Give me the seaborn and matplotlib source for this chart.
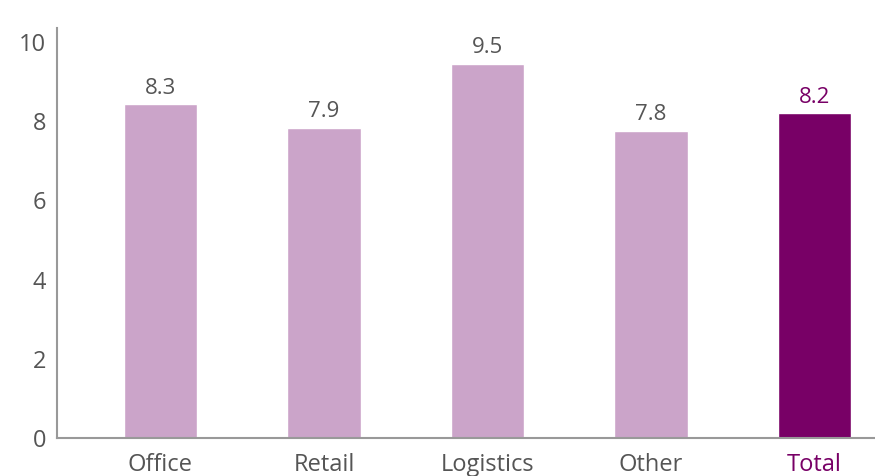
import matplotlib
matplotlib.use("Agg")
import matplotlib.pyplot as plt
import seaborn as sns
import pandas as pd

categories = ["Office", "Retail", "Logistics", "Other", "Total"]
heights = [8.43, 7.83, 9.44, 7.75, 8.2]
value_labels = ["8.3", "7.9", "9.5", "7.8", "8.2"]
yticks = [0, 2, 4, 6, 8, 10]

light = "#CBA4C9"
dark = "#780066"
text_gray = "#555555"
spine_gray = "#999999"

sns.set_theme(style="white")
plt.rcParams["font.family"] = ["Open Sans", "DejaVu Sans"]

df = pd.DataFrame({"cat": categories, "val": heights})
colors = [light, light, light, light, dark]

fig = plt.figure(figsize=(8.75, 4.76), dpi=100)
ax = fig.add_axes([57/875, 38/476, 1 - 57/875, (438-28)/476])
sns.barplot(data=df, x="cat", y="val", hue="cat", palette=colors, legend=False,
            width=0.45, ax=ax, saturation=1)

ax.set_xlim(-0.633, 4.37)
ax.set_ylim(0, 10.35)
ax.set_yticks(yticks)
ax.set_yticklabels([str(t) for t in yticks])
ax.set_xlabel("")
ax.set_ylabel("")

for s in ["top", "right"]:
    ax.spines[s].set_visible(False)
for s in ["left", "bottom"]:
    ax.spines[s].set_color(spine_gray)
    ax.spines[s].set_linewidth(1.5)

ax.tick_params(axis="y", direction="in", length=14, width=1.5, color=spine_gray,
               labelsize=17, labelcolor=text_gray, pad=8)
ax.tick_params(axis="x", length=0, labelsize=17, labelcolor=text_gray, pad=11)
for lbl in ax.get_xticklabels():
    if lbl.get_text() == "Total":
        lbl.set_color(dark)

for i, (h, t) in enumerate(zip(heights, value_labels)):
    c = dark if categories[i] == "Total" else text_gray
    ax.annotate(t, (i, h), xytext=(0, 4), textcoords="offset points",
                ha="center", va="bottom", fontsize=16, color=c)

fig.savefig("out.png", dpi=100)
